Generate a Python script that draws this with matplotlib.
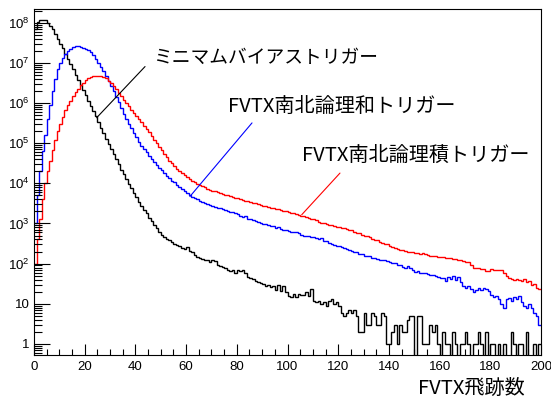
import numpy as np
import matplotlib
matplotlib.use("Agg")
import matplotlib.pyplot as plt
from matplotlib.ticker import FixedLocator, LogLocator, MultipleLocator, FuncFormatter

# ---------------- data (counts per unit-width bin, 0..200) ----------------
bin_edges = list(range(0, 201))

minbias = [
    7.1e7, 1.05e8, 1.2e8, 1.2e8, 1.15e8, 1.0e8, 8.3e7, 6.8e7, 5.2e7, 4.0e7,
    3.0e7, 2.3e7, 1.7e7, 1.26e7, 9.3e6, 6.9e6, 5.1e6, 3.8e6, 2.8e6, 2.1e6,
    1.55e6, 1.15e6, 8.5e5, 6.3e5, 4.7e5, 3.4e5, 2.45e5, 1.8e5, 1.3e5, 9.8e4,
    7.2e4, 5.4e4, 4.0e4, 2.95e4, 2.2e4, 1.7e4, 1.3e4, 9.8e3, 7.6e3, 5.9e3,
    4.6e3, 3.5e3, 2.8e3, 2.2e3, 1.8e3, 1.4e3, 1.15e3, 930, 760, 630,
    525, 468, 417, 380, 347, 316, 288, 269, 251, 229,
    263, 204, 190, 166, 148, 138, 132, 126, 123, 107,
    120, 115, 95, 89, 83, 76, 69, 66, 68, 60,
    68, 66, 68, 58, 46, 43, 42, 36, 35, 33,
    32, 28, 29, 26, 27, 22, 30, 21, 28, 20,
    16, 15, 18, 15, 18, 17, 17, 20, 16, 23,
    12, 11, 12, 10, 11, 9, 12, 13, 10, 11,
    9, 6, 5, 6, 7, 6, 7, 5, 2, 2,
    6, 3, 3, 6, 5, 3, 3, 6, 5, 1,
    1, 2, 3, 1, 3, 2, 2, 4, 5, 5,
    0, 5, 5, 1, 1, 1, 3, 2, 3, 1,
    0, 2, 1, 1, 0, 2, 1, 0, 1, 1,
    2, 1, 0, 1, 1, 2, 1, 0, 2, 0,
    1, 1, 0, 1, 0, 1, 0, 0, 2, 1,
    0, 1, 1, 0, 2, 0, 0, 1, 0, 1,
]

or_trigger = [
    1.0e3, 5.2e3, 2.0e4, 6.3e4, 1.6e5, 4.0e5, 8.9e5, 2.0e6, 4.0e6, 7.1e6,
    1.0e7, 1.32e7, 1.66e7, 2.0e7, 2.24e7, 2.45e7, 2.57e7, 2.57e7, 2.51e7, 2.4e7,
    2.24e7, 2.04e7, 1.82e7, 1.55e7, 1.26e7, 1.0e7, 7.9e6, 6.2e6, 4.7e6, 3.5e6,
    2.6e6, 1.95e6, 1.45e6, 1.05e6, 7.4e5, 5.4e5, 4.0e5, 3.0e5, 2.35e5, 1.8e5,
    1.4e5, 1.1e5, 8.7e4, 7.1e4, 5.9e4, 4.9e4, 4.1e4, 3.4e4, 2.9e4, 2.45e4,
    2.1e4, 1.8e4, 1.55e4, 1.35e4, 1.17e4, 1.05e4, 9100, 7900, 7100, 6300,
    5750, 5100, 4700, 4300, 4000, 3700, 3470, 3240, 3020, 2820,
    2700, 2600, 2500, 2400, 2300, 2200, 2050, 1900, 1900, 1780,
    1700, 1580, 1480, 1500, 1320, 1260, 1230, 1170, 1120, 1000,
    955, 977, 912, 871, 851, 794, 813, 741, 708, 692,
    661, 631, 603, 603, 575, 525, 501, 479, 490, 457,
    468, 427, 417, 437, 372, 363, 331, 316, 288, 275,
    269, 257, 251, 229, 214, 209, 200, 191, 178, 174,
    158, 151, 155, 141, 138, 132, 126, 123, 126, 115,
    107, 102, 105, 95, 93, 83, 78, 87, 76, 68,
    63, 66, 60, 58, 59, 54, 51, 52, 48, 46,
    45, 44, 38, 46, 42, 50, 40, 47, 35, 28,
    25, 28, 23, 20, 22, 25, 22, 25, 23, 21,
    17, 15, 16, 13, 10, 8, 13, 14, 12, 15,
    13, 16, 11, 9, 8, 10, 8, 6, 5, 3,
]

and_trigger = [
    100, 400, 1260, 4000, 1.0e4, 2.0e4, 3.5e4, 6.9e4, 1.23e5, 2.0e5,
    3.0e5, 4.4e5, 6.6e5, 9.1e5, 1.15e6, 1.48e6, 1.86e6, 2.3e6, 2.75e6, 3.2e6,
    3.7e6, 4.1e6, 4.4e6, 4.6e6, 4.7e6, 4.7e6, 4.6e6, 4.4e6, 4.1e6, 3.6e6,
    3.2e6, 2.7e6, 2.2e6, 1.78e6, 1.48e6, 1.2e6, 1.0e6, 8.3e5, 6.9e5, 5.75e5,
    4.8e5, 4.0e5, 3.3e5, 2.75e5, 2.3e5, 1.86e5, 1.5e5, 1.23e5, 1.0e5, 8.1e4,
    6.6e4, 5.4e4, 4.5e4, 3.7e4, 3.2e4, 2.7e4, 2.3e4, 2.0e4, 1.78e4, 1.58e4,
    1.4e4, 1.29e4, 1.17e4, 1.07e4, 9800, 9100, 8500, 7900, 7400, 6900,
    6600, 6300, 6000, 5750, 5500, 5250, 5000, 4800, 4600, 4350,
    4200, 4000, 3800, 3700, 3550, 3400, 3250, 3150, 3000, 2900,
    2750, 2700, 2550, 2500, 2400, 2300, 2250, 2150, 2100, 2000,
    1950, 1860, 1780, 1700, 1660, 1580, 1500, 1410, 1380, 1320,
    1260, 1200, 1100, 1050, 1020, 977, 933, 891, 851, 832,
    813, 759, 794, 724, 708, 676, 617, 589, 575, 525,
    501, 479, 468, 417, 398, 380, 355, 331, 316, 302,
    275, 263, 251, 234, 224, 214, 209, 200, 191, 195,
    186, 182, 178, 182, 170, 166, 158, 151, 151, 148,
    145, 148, 138, 138, 135, 129, 132, 120, 126, 117,
    112, 107, 93, 79, 76, 78, 74, 72, 65, 66,
    72, 68, 69, 71, 68, 58, 50, 43, 42, 40,
    41, 40, 38, 42, 35, 38, 30, 32, 25, 24,
]

label_minbias = "ミニマムバイアストリガー"
label_or = "FVTX南北論理和トリガー"
label_and = "FVTX南北論理積トリガー"
x_title = "FVTX飛跡数"

x_ticks = [0, 20, 40, 60, 80, 100, 120, 140, 160, 180, 200]
y_decades = [1, 10, 1e2, 1e3, 1e4, 1e5, 1e6, 1e7, 1e8]

# ---------------- style ----------------
plt.rcParams["font.family"] = ["Liberation Sans", "DejaVu Sans"]
plt.rcParams["mathtext.fontset"] = "custom"
plt.rcParams["mathtext.rm"] = "Liberation Sans"
plt.rcParams["mathtext.it"] = "Liberation Sans:italic"
plt.rcParams["mathtext.bf"] = "Liberation Sans:bold"
CJK = ["Noto Sans CJK JP", "DejaVu Sans"]

fig = plt.figure(figsize=(5.51, 4.01), dpi=100)
ax = fig.add_axes([34 / 551, 46 / 401, 507 / 551, 346 / 401])

edges = np.array(bin_edges, dtype=float)
floor = 1e-3  # empty bins are drawn down to the frame bottom
for vals, col in [(minbias, "black"), (or_trigger, "#0000ff"), (and_trigger, "#ff0000")]:
    v = np.asarray(vals, dtype=float)
    v = np.where(v > 0, v, floor)
    ax.stairs(v, edges, baseline=None, color=col, lw=1.0)

ax.set_yscale("log")
ax.set_xlim(0, 200)
ax.set_ylim(0.53, 2.2e8)

ax.xaxis.set_major_locator(FixedLocator(x_ticks))
ax.xaxis.set_minor_locator(MultipleLocator(5))
ax.yaxis.set_major_locator(FixedLocator(y_decades))
ax.yaxis.set_minor_locator(LogLocator(base=10, subs=np.arange(2, 10), numticks=30))


def yfmt(v, pos):
    k = int(round(np.log10(v)))
    if k == 0:
        return "1"
    if k == 1:
        return "10"
    return r"$\mathregular{10^{%d}}$" % k


ax.yaxis.set_major_formatter(FuncFormatter(yfmt))
ax.xaxis.set_major_formatter(FuncFormatter(lambda v, p: "%d" % v))

ax.tick_params(axis="x", which="major", direction="in", length=8, width=0.8,
               labelsize=9.5, pad=4, top=False)
ax.tick_params(axis="x", which="minor", direction="in", length=4.3, width=0.8, top=False)
ax.tick_params(axis="y", which="major", direction="in", length=11.5, width=0.8,
               labelsize=9.5, pad=3, right=False)
ax.tick_params(axis="y", which="minor", direction="in", length=5.8, width=0.8, right=False)
for s in ax.spines.values():
    s.set_linewidth(0.8)

# annotation lines (from curve to label) and labels
line_kw = dict(arrowstyle="-", lw=0.8, shrinkA=0, shrinkB=0)
ax.annotate("", xy=(24.7, 4.3e5), xytext=(43.8, 8.1e6),
            arrowprops=dict(color="black", **line_kw))
ax.text(0.235, 0.861, label_minbias, transform=ax.transAxes, fontsize=13.5,
        family=CJK, ha="left", va="center")

ax.annotate("", xy=(61.5, 4700), xytext=(86.0, 3.2e5),
            arrowprops=dict(color="#0000ff", **line_kw))
ax.text(0.382, 0.717, label_or, transform=ax.transAxes, fontsize=14.5,
        family=CJK, ha="left", va="center")

ax.annotate("", xy=(105.6, 1650), xytext=(120.7, 1.8e4),
            arrowprops=dict(color="#ff0000", **line_kw))
ax.text(0.528, 0.578, label_and, transform=ax.transAxes, fontsize=14.5,
        family=CJK, ha="left", va="center")

fig.text(525 / 551, 13 / 401, x_title, fontsize=14.5, family=CJK, ha="right", va="center")

fig.savefig("out.png", dpi=100)
